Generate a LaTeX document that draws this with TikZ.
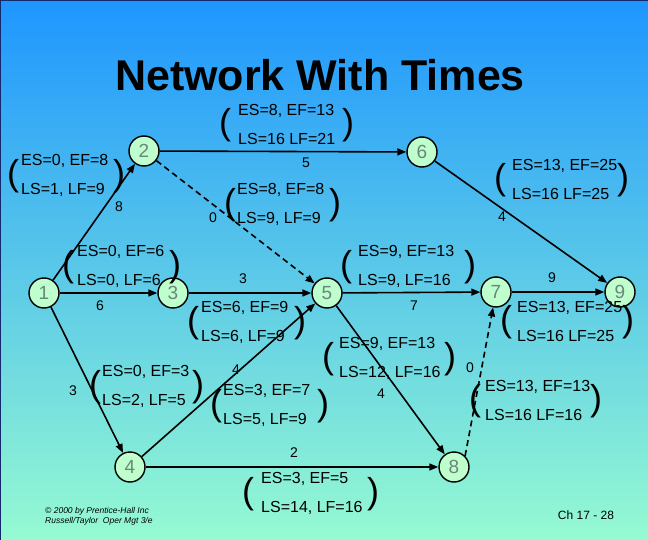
\documentclass[tikz,border=0pt]{standalone}
\usepackage{fontspec}
\setmainfont{Liberation Sans}
\usetikzlibrary{arrows.meta, positioning}
\definecolor{skytop}{RGB}{30,150,255}
\definecolor{seabottom}{RGB}{150,250,210}
\definecolor{slideframe}{RGB}{20,40,110}
\definecolor{eventfill}{RGB}{190,255,205}
\definecolor{eventtext}{RGB}{105,135,120}
\tikzset{
    event/.style={circle, draw, line width=1.4pt, fill=eventfill, minimum size=30pt, inner sep=0pt, text=eventtext, font=\fontsize{19}{19}\selectfont},
    act/.style={-{Triangle[length=9pt, width=7pt]}, line width=1.6pt},
    dummy/.style={act, dash pattern=on 6pt off 4pt},
    dur/.style={inner sep=0pt, font=\fontsize{14}{14}\selectfont},
    times/.style={align=left, anchor=west, inner sep=0pt, font=\fontsize{16}{29}\selectfont},
    paren/.style={inner sep=0pt, font=\fontsize{36}{36}\selectfont}
}

\begin{document}
\begin{tikzpicture}[x=1pt, y=-1pt]
    % Slide background
    \fill[top color=skytop, bottom color=seabottom] (0,0) rectangle (648,540);
    \useasboundingbox (0,0) rectangle (648,540);
    \draw[slideframe, line width=2pt] (0,540) -- (0,0) -- (648,0);
    % Title
    \node[font=\fontsize{43}{50}\selectfont\bfseries] (title) at (320,75) {Network With Times};
    % Events
    \node[event] (n1) at (44,293) {1};
    \node[event] (n2) at (144,151) {2};
    \node[event] (n3) at (173,293) {3};
    \node[event] (n4) at (130,467) {4};
    \node[event] (n5) at (327,293) {5};
    \node[event] (n6) at (422,152) {6};
    \node[event] (n7) at (496,292) {7};
    \node[event] (n8) at (454,467) {8};
    \node[event] (n9) at (620,292) {9};
    % Activities
    \draw[act] (n1) -- (n2);
    \draw[act] (n1) -- (n3);
    \draw[act] (n1) -- (n4);
    \draw[act] (n2) -- (n6);
    \draw[dummy] (n2) -- (n5);
    \draw[act] (n3) -- (n5);
    \draw[act] (n4) -- (n5);
    \draw[act] (n4) -- (n8);
    \draw[act] (n5) -- (n7);
    \draw[act] (n5) -- (n8);
    \draw[act] (n6) -- (n9);
    \draw[act] (n7) -- (n9);
    \draw[dummy] (n8.north east) -- (n7);
    % Durations
    \node[dur] (d12) at (119,207) {8};
    \node[dur] (d13) at (100,306) {6};
    \node[dur] (d14) at (73,391) {3};
    \node[dur] (d26) at (306,163) {5};
    \node[dur] (d25) at (213,218) {0};
    \node[dur] (d35) at (243,279) {3};
    \node[dur] (d45) at (236,370) {4};
    \node[dur] (d48) at (294,453) {2};
    \node[dur] (d57) at (414,306) {7};
    \node[dur] (d58) at (381,394) {4};
    \node[dur] (d69) at (502,217) {4};
    \node[dur] (d79) at (552,278) {9};
    \node[dur] (d87) at (470,368) {0};
    % Start and finish times, activity 1-2
    \node[times] (t12) at (21,175) {ES=0, EF=8\\LS=1, LF=9};
    \node[paren] (t12l) at (13,176) {(};
    \node[paren] (t12r) at (119,176) {)};
    % activity 2-6
    \node[times] (t26) at (238,124) {ES=8, EF=13\\LS=16 LF=21};
    \node[paren] (t26l) at (225,125) {(};
    \node[paren] (t26r) at (348,125) {)};
    % activity 2-5
    \node[times] (t25) at (237,204) {ES=8, EF=8\\LS=9, LF=9};
    \node[paren] (t25l) at (230,205) {(};
    \node[paren] (t25r) at (335,205) {)};
    % activity 6-9
    \node[times] (t69) at (512,179) {ES=13, EF=25\\LS=16 LF=25};
    \node[paren] (t69l) at (500,180) {(};
    \node[paren] (t69r) at (623,180) {)};
    % activity 1-3
    \node[times] (t13) at (77,266) {ES=0, EF=6\\LS=0, LF=6};
    \node[paren] (t13l) at (68,267) {(};
    \node[paren] (t13r) at (175,267) {)};
    % activity 3-5
    \node[times] (t35) at (201,322) {ES=6, EF=9\\LS=6, LF=9};
    \node[paren] (t35l) at (193,323) {(};
    \node[paren] (t35r) at (300,323) {)};
    % activity 5-7
    \node[times] (t57) at (358,266) {ES=9, EF=13\\LS=9, LF=16};
    \node[paren] (t57l) at (346,267) {(};
    \node[paren] (t57r) at (470,267) {)};
    % activity 7-9
    \node[times] (t79) at (517,321) {ES=13, EF=25\\LS=16 LF=25};
    \node[paren] (t79l) at (506,322) {(};
    \node[paren] (t79r) at (628,322) {)};
    % activity 1-4
    \node[times] (t14) at (102,386) {ES=0, EF=3\\LS=2, LF=5};
    \node[paren] (t14l) at (95,387) {(};
    \node[paren] (t14r) at (198,387) {)};
    % activity 4-5
    \node[times] (t45) at (223,405) {ES=3, EF=7\\LS=5, LF=9};
    \node[paren] (t45l) at (216,406) {(};
    \node[paren] (t45r) at (323,406) {)};
    % activity 5-8
    \node[times] (t58) at (339,358) {ES=9, EF=13\\LS=12, LF=16};
    \node[paren] (t58l) at (328,359) {(};
    \node[paren] (t58r) at (450,359) {)};
    % activity 8-7
    \node[times] (t87) at (485,400) {ES=13, EF=13\\LS=16 LF=16};
    \node[paren] (t87l) at (475,401) {(};
    \node[paren] (t87r) at (596,401) {)};
    % activity 4-8
    \node[times] (t48) at (261,493) {ES=3, EF=5\\LS=14, LF=16};
    \node[paren] (t48l) at (248,494) {(};
    \node[paren] (t48r) at (373,494) {)};
    % Footer
    \node[align=left, anchor=west, inner sep=0pt, font=\fontsize{8.5}{10}\selectfont\itshape] (credit) at (45,516) {\textcopyright\ 2000 by Prentice-Hall Inc\\Russell/Taylor~~Oper Mgt 3/e};
    \node[inner sep=0pt, font=\fontsize{12}{12}\selectfont] (slideno) at (586,515) {Ch 17 - 28};
\end{tikzpicture}
\end{document}
